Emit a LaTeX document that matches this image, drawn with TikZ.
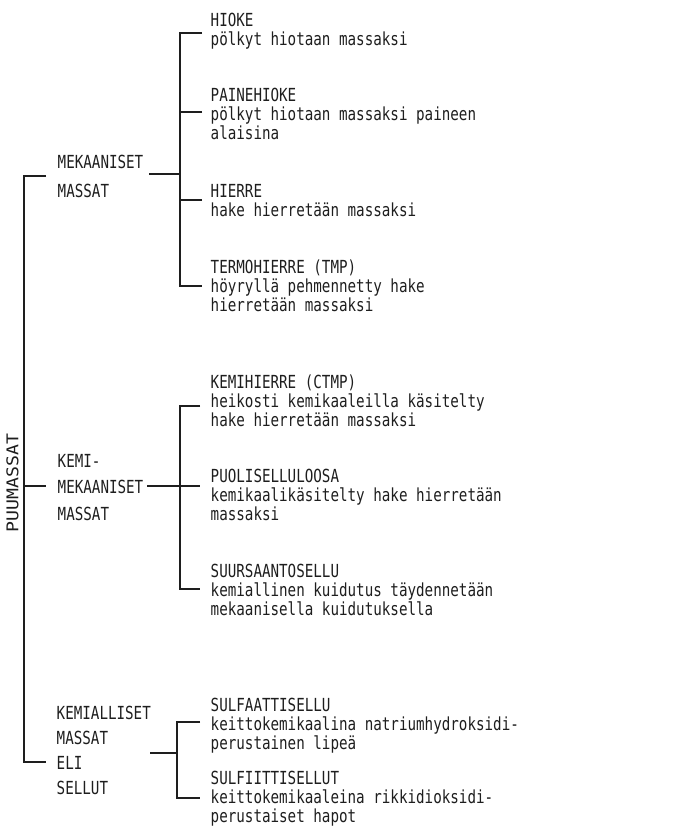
\documentclass[tikz,border=0pt]{standalone}
\usepackage{fontspec}
\newfontfamily\monof[FakeStretch=0.79]{DejaVu Sans Mono}
\newfontfamily\monow[FakeStretch=1.12]{DejaVu Sans Mono}
\definecolor{ink}{HTML}{1E1E1E}
\begin{document}
\begin{tikzpicture}[x=1pt,y=-1pt,line width=1.4pt,
  desc/.style={anchor=base west,align=left,inner sep=0pt,text=ink,
    font=\monof\fontsize{18}{19}\selectfont},
  lab/.style={anchor=base west,align=left,inner sep=0pt,text=ink,
    font=\monof\fontsize{18}{#1}\selectfont},
  conn/.style={draw=ink,line width=1.4pt}]
\useasboundingbox (0,0) rectangle (683,828);

% root label
\node[rotate=90,inner sep=0pt,text=ink,font=\monow\fontsize{16.2}{18}\selectfont] (root) at (12.5,483) {PUUMASSAT};

% group labels (anchored at the baseline of their last line)
\node[lab=29] (mek) at (57,197) {MEKAANISET\\MASSAT};
\node[lab=26.5] (kemek) at (57,520) {KEMI-\\MEKAANISET\\MASSAT};
\node[lab=24.7] (kem) at (56,794) {KEMIALLISET\\MASSAT\\ELI\\SELLUT};

% leaves (anchored at the baseline of their last line)
\node[desc] (hioke) at (210,45) {HIOKE\\pölkyt hiotaan massaksi};
\node[desc] (paine) at (210,139) {PAINEHIOKE\\pölkyt hiotaan massaksi paineen\\alaisina};
\node[desc] (hierre) at (210,216) {HIERRE\\hake hierretään massaksi};
\node[desc] (tmp) at (210,311) {TERMOHIERRE (TMP)\\höyryllä pehmennetty hake\\hierretään massaksi};
\node[desc] (ctmp) at (210,426) {KEMIHIERRE (CTMP)\\heikosti kemikaaleilla käsitelty\\hake hierretään massaksi};
\node[desc] (puoli) at (210,520) {PUOLISELLULOOSA\\kemikaalikäsitelty hake hierretään\\massaksi};
\node[desc] (suur) at (210,615) {SUURSAANTOSELLU\\kemiallinen kuidutus täydennetään\\mekaanisella kuidutuksella};
\node[desc] (sulfaatti) at (210,749) {SULFAATTISELLU\\keittokemikaalina natriumhydroksidi-\\perustainen lipeä};
\node[desc] (sulfiitti) at (210,822) {SULFIITTISELLUT\\keittokemikaaleina rikkidioksidi-\\perustaiset hapot};

% junction coordinates
\coordinate (rt) at (24,176);
\coordinate (rb) at (24,762);
\coordinate (rm) at (24,486);
\coordinate (mekL) at (46,176);
\coordinate (kemekL) at (46,486);
\coordinate (kemL) at (46,762);

\coordinate (mekR) at (149,174);
\coordinate (mekJ) at (180,174);
\coordinate (hiokeT) at (202,33);
\coordinate (paineT) at (202,112);
\coordinate (hierreT) at (202,200);
\coordinate (tmpT) at (202,286);

\coordinate (kemekR) at (147,486);
\coordinate (kemekJ) at (180,486);
\coordinate (ctmpT) at (200,406);
\coordinate (puoliT) at (200,486);
\coordinate (suurT) at (200,589);

\coordinate (kemR) at (150,753);
\coordinate (kemJ) at (177,753);
\coordinate (sulfaattiT) at (200,722);
\coordinate (sulfiittiT) at (200,798);

% root bracket
\draw[conn] (mekL) -- (rt) -- (rb) -- (kemL);
\draw[conn] (rm) -- (kemekL);

% mechanical bracket
\draw[conn] (mekR) -- (mekJ);
\draw[conn] (hiokeT) -| (mekJ) |- (tmpT);
\draw[conn] (paineT) -- (paineT -| mekJ);
\draw[conn] (hierreT) -- (hierreT -| mekJ);

% chemi-mechanical bracket
\draw[conn] (kemekR) -- (puoliT);
\draw[conn] (ctmpT) -| (kemekJ) |- (suurT);

% chemical bracket
\draw[conn] (kemR) -- (kemJ);
\draw[conn] (sulfaattiT) -| (kemJ) |- (sulfiittiT);
\end{tikzpicture}
\end{document}
